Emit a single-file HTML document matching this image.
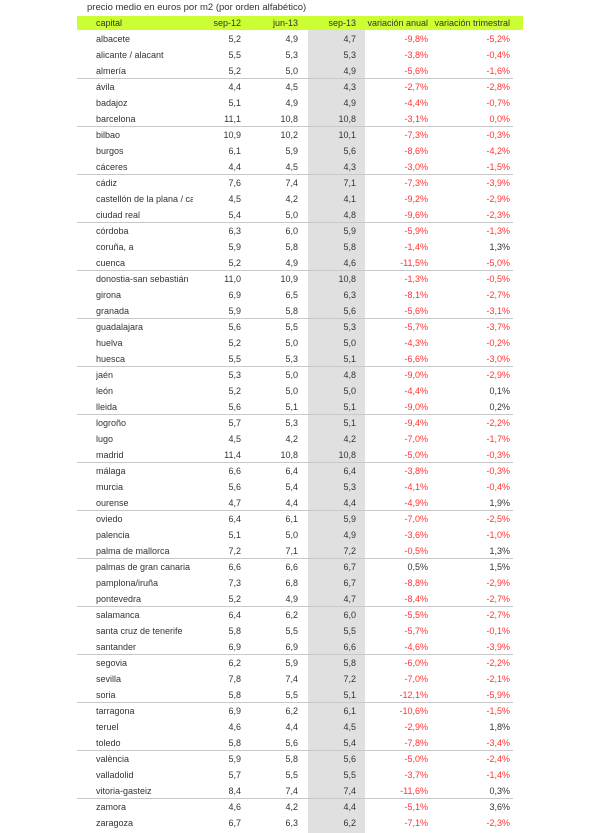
<!DOCTYPE html>
<html><head><meta charset="utf-8">
<style>
html,body{margin:0;padding:0;background:#fff;}
body{width:610px;height:833px;position:relative;overflow:hidden;font-family:"Liberation Sans",Arial,sans-serif;font-size:9px;color:#333;}
.t{position:absolute;left:87px;top:1px;font-size:9.5px;line-height:14px;color:#333;white-space:nowrap;}
.g{position:absolute;left:308px;top:30px;width:57px;height:803px;background:#e0e0e0;}
.h{position:absolute;left:77px;top:16px;width:446px;height:14px;background:#ccff33;line-height:15px;}
.r{position:absolute;left:77px;width:436px;height:16px;line-height:17px;box-sizing:border-box;}
.s{border-bottom:1px solid #c8c8c8;}
.r span,.h span{position:absolute;top:0;white-space:nowrap;text-align:right;}
.r span.c,.h span.c{left:19px;width:97px;overflow:hidden;text-align:left;}
span.a{left:104px;width:60px;}
span.b{left:161px;width:60px;}
span.d{left:219px;width:60px;}
span.e{left:281px;width:70px;}
span.f{left:353px;width:80px;}
.n{color:#ff3333;}
</style></head><body>
<div class="t">precio medio en euros por m2 (por orden alfabético)</div>
<div class="g"></div>
<div class="h"><span class="c">capital</span><span class="a">sep-12</span><span class="b">jun-13</span><span class="d">sep-13</span><span class="e">variación anual</span><span class="f">variación trimestral</span></div>

<div class="r" style="top:31px"><span class="c">albacete</span><span class="a">5,2</span><span class="b">4,9</span><span class="d">4,7</span><span class="e n">-9,8%</span><span class="f n">-5,2%</span></div>
<div class="r" style="top:47px"><span class="c">alicante / alacant</span><span class="a">5,5</span><span class="b">5,3</span><span class="d">5,3</span><span class="e n">-3,8%</span><span class="f n">-0,4%</span></div>
<div class="r s" style="top:63px"><span class="c">almería</span><span class="a">5,2</span><span class="b">5,0</span><span class="d">4,9</span><span class="e n">-5,6%</span><span class="f n">-1,6%</span></div>
<div class="r" style="top:79px"><span class="c">ávila</span><span class="a">4,4</span><span class="b">4,5</span><span class="d">4,3</span><span class="e n">-2,7%</span><span class="f n">-2,8%</span></div>
<div class="r" style="top:95px"><span class="c">badajoz</span><span class="a">5,1</span><span class="b">4,9</span><span class="d">4,9</span><span class="e n">-4,4%</span><span class="f n">-0,7%</span></div>
<div class="r s" style="top:111px"><span class="c">barcelona</span><span class="a">11,1</span><span class="b">10,8</span><span class="d">10,8</span><span class="e n">-3,1%</span><span class="f n">0,0%</span></div>
<div class="r" style="top:127px"><span class="c">bilbao</span><span class="a">10,9</span><span class="b">10,2</span><span class="d">10,1</span><span class="e n">-7,3%</span><span class="f n">-0,3%</span></div>
<div class="r" style="top:143px"><span class="c">burgos</span><span class="a">6,1</span><span class="b">5,9</span><span class="d">5,6</span><span class="e n">-8,6%</span><span class="f n">-4,2%</span></div>
<div class="r s" style="top:159px"><span class="c">cáceres</span><span class="a">4,4</span><span class="b">4,5</span><span class="d">4,3</span><span class="e n">-3,0%</span><span class="f n">-1,5%</span></div>
<div class="r" style="top:175px"><span class="c">cádiz</span><span class="a">7,6</span><span class="b">7,4</span><span class="d">7,1</span><span class="e n">-7,3%</span><span class="f n">-3,9%</span></div>
<div class="r" style="top:191px"><span class="c">castellón de la plana / castelló de la plana</span><span class="a">4,5</span><span class="b">4,2</span><span class="d">4,1</span><span class="e n">-9,2%</span><span class="f n">-2,9%</span></div>
<div class="r s" style="top:207px"><span class="c">ciudad real</span><span class="a">5,4</span><span class="b">5,0</span><span class="d">4,8</span><span class="e n">-9,6%</span><span class="f n">-2,3%</span></div>
<div class="r" style="top:223px"><span class="c">córdoba</span><span class="a">6,3</span><span class="b">6,0</span><span class="d">5,9</span><span class="e n">-5,9%</span><span class="f n">-1,3%</span></div>
<div class="r" style="top:239px"><span class="c">coruña, a</span><span class="a">5,9</span><span class="b">5,8</span><span class="d">5,8</span><span class="e n">-1,4%</span><span class="f">1,3%</span></div>
<div class="r s" style="top:255px"><span class="c">cuenca</span><span class="a">5,2</span><span class="b">4,9</span><span class="d">4,6</span><span class="e n">-11,5%</span><span class="f n">-5,0%</span></div>
<div class="r" style="top:271px"><span class="c">donostia-san sebastián</span><span class="a">11,0</span><span class="b">10,9</span><span class="d">10,8</span><span class="e n">-1,3%</span><span class="f n">-0,5%</span></div>
<div class="r" style="top:287px"><span class="c">girona</span><span class="a">6,9</span><span class="b">6,5</span><span class="d">6,3</span><span class="e n">-8,1%</span><span class="f n">-2,7%</span></div>
<div class="r s" style="top:303px"><span class="c">granada</span><span class="a">5,9</span><span class="b">5,8</span><span class="d">5,6</span><span class="e n">-5,6%</span><span class="f n">-3,1%</span></div>
<div class="r" style="top:319px"><span class="c">guadalajara</span><span class="a">5,6</span><span class="b">5,5</span><span class="d">5,3</span><span class="e n">-5,7%</span><span class="f n">-3,7%</span></div>
<div class="r" style="top:335px"><span class="c">huelva</span><span class="a">5,2</span><span class="b">5,0</span><span class="d">5,0</span><span class="e n">-4,3%</span><span class="f n">-0,2%</span></div>
<div class="r s" style="top:351px"><span class="c">huesca</span><span class="a">5,5</span><span class="b">5,3</span><span class="d">5,1</span><span class="e n">-6,6%</span><span class="f n">-3,0%</span></div>
<div class="r" style="top:367px"><span class="c">jaén</span><span class="a">5,3</span><span class="b">5,0</span><span class="d">4,8</span><span class="e n">-9,0%</span><span class="f n">-2,9%</span></div>
<div class="r" style="top:383px"><span class="c">león</span><span class="a">5,2</span><span class="b">5,0</span><span class="d">5,0</span><span class="e n">-4,4%</span><span class="f">0,1%</span></div>
<div class="r s" style="top:399px"><span class="c">lleida</span><span class="a">5,6</span><span class="b">5,1</span><span class="d">5,1</span><span class="e n">-9,0%</span><span class="f">0,2%</span></div>
<div class="r" style="top:415px"><span class="c">logroño</span><span class="a">5,7</span><span class="b">5,3</span><span class="d">5,1</span><span class="e n">-9,4%</span><span class="f n">-2,2%</span></div>
<div class="r" style="top:431px"><span class="c">lugo</span><span class="a">4,5</span><span class="b">4,2</span><span class="d">4,2</span><span class="e n">-7,0%</span><span class="f n">-1,7%</span></div>
<div class="r s" style="top:447px"><span class="c">madrid</span><span class="a">11,4</span><span class="b">10,8</span><span class="d">10,8</span><span class="e n">-5,0%</span><span class="f n">-0,3%</span></div>
<div class="r" style="top:463px"><span class="c">málaga</span><span class="a">6,6</span><span class="b">6,4</span><span class="d">6,4</span><span class="e n">-3,8%</span><span class="f n">-0,3%</span></div>
<div class="r" style="top:479px"><span class="c">murcia</span><span class="a">5,6</span><span class="b">5,4</span><span class="d">5,3</span><span class="e n">-4,1%</span><span class="f n">-0,4%</span></div>
<div class="r s" style="top:495px"><span class="c">ourense</span><span class="a">4,7</span><span class="b">4,4</span><span class="d">4,4</span><span class="e n">-4,9%</span><span class="f">1,9%</span></div>
<div class="r" style="top:511px"><span class="c">oviedo</span><span class="a">6,4</span><span class="b">6,1</span><span class="d">5,9</span><span class="e n">-7,0%</span><span class="f n">-2,5%</span></div>
<div class="r" style="top:527px"><span class="c">palencia</span><span class="a">5,1</span><span class="b">5,0</span><span class="d">4,9</span><span class="e n">-3,6%</span><span class="f n">-1,0%</span></div>
<div class="r s" style="top:543px"><span class="c">palma de mallorca</span><span class="a">7,2</span><span class="b">7,1</span><span class="d">7,2</span><span class="e n">-0,5%</span><span class="f">1,3%</span></div>
<div class="r" style="top:559px"><span class="c">palmas de gran canaria</span><span class="a">6,6</span><span class="b">6,6</span><span class="d">6,7</span><span class="e">0,5%</span><span class="f">1,5%</span></div>
<div class="r" style="top:575px"><span class="c">pamplona/iruña</span><span class="a">7,3</span><span class="b">6,8</span><span class="d">6,7</span><span class="e n">-8,8%</span><span class="f n">-2,9%</span></div>
<div class="r s" style="top:591px"><span class="c">pontevedra</span><span class="a">5,2</span><span class="b">4,9</span><span class="d">4,7</span><span class="e n">-8,4%</span><span class="f n">-2,7%</span></div>
<div class="r" style="top:607px"><span class="c">salamanca</span><span class="a">6,4</span><span class="b">6,2</span><span class="d">6,0</span><span class="e n">-5,5%</span><span class="f n">-2,7%</span></div>
<div class="r" style="top:623px"><span class="c">santa cruz de tenerife</span><span class="a">5,8</span><span class="b">5,5</span><span class="d">5,5</span><span class="e n">-5,7%</span><span class="f n">-0,1%</span></div>
<div class="r s" style="top:639px"><span class="c">santander</span><span class="a">6,9</span><span class="b">6,9</span><span class="d">6,6</span><span class="e n">-4,6%</span><span class="f n">-3,9%</span></div>
<div class="r" style="top:655px"><span class="c">segovia</span><span class="a">6,2</span><span class="b">5,9</span><span class="d">5,8</span><span class="e n">-6,0%</span><span class="f n">-2,2%</span></div>
<div class="r" style="top:671px"><span class="c">sevilla</span><span class="a">7,8</span><span class="b">7,4</span><span class="d">7,2</span><span class="e n">-7,0%</span><span class="f n">-2,1%</span></div>
<div class="r s" style="top:687px"><span class="c">soria</span><span class="a">5,8</span><span class="b">5,5</span><span class="d">5,1</span><span class="e n">-12,1%</span><span class="f n">-5,9%</span></div>
<div class="r" style="top:703px"><span class="c">tarragona</span><span class="a">6,9</span><span class="b">6,2</span><span class="d">6,1</span><span class="e n">-10,6%</span><span class="f n">-1,5%</span></div>
<div class="r" style="top:719px"><span class="c">teruel</span><span class="a">4,6</span><span class="b">4,4</span><span class="d">4,5</span><span class="e n">-2,9%</span><span class="f">1,8%</span></div>
<div class="r s" style="top:735px"><span class="c">toledo</span><span class="a">5,8</span><span class="b">5,6</span><span class="d">5,4</span><span class="e n">-7,8%</span><span class="f n">-3,4%</span></div>
<div class="r" style="top:751px"><span class="c">valència</span><span class="a">5,9</span><span class="b">5,8</span><span class="d">5,6</span><span class="e n">-5,0%</span><span class="f n">-2,4%</span></div>
<div class="r" style="top:767px"><span class="c">valladolid</span><span class="a">5,7</span><span class="b">5,5</span><span class="d">5,5</span><span class="e n">-3,7%</span><span class="f n">-1,4%</span></div>
<div class="r s" style="top:783px"><span class="c">vitoria-gasteiz</span><span class="a">8,4</span><span class="b">7,4</span><span class="d">7,4</span><span class="e n">-11,6%</span><span class="f">0,3%</span></div>
<div class="r" style="top:799px"><span class="c">zamora</span><span class="a">4,6</span><span class="b">4,2</span><span class="d">4,4</span><span class="e n">-5,1%</span><span class="f">3,6%</span></div>
<div class="r" style="top:815px"><span class="c">zaragoza</span><span class="a">6,7</span><span class="b">6,3</span><span class="d">6,2</span><span class="e n">-7,1%</span><span class="f n">-2,3%</span></div>
</body></html>
